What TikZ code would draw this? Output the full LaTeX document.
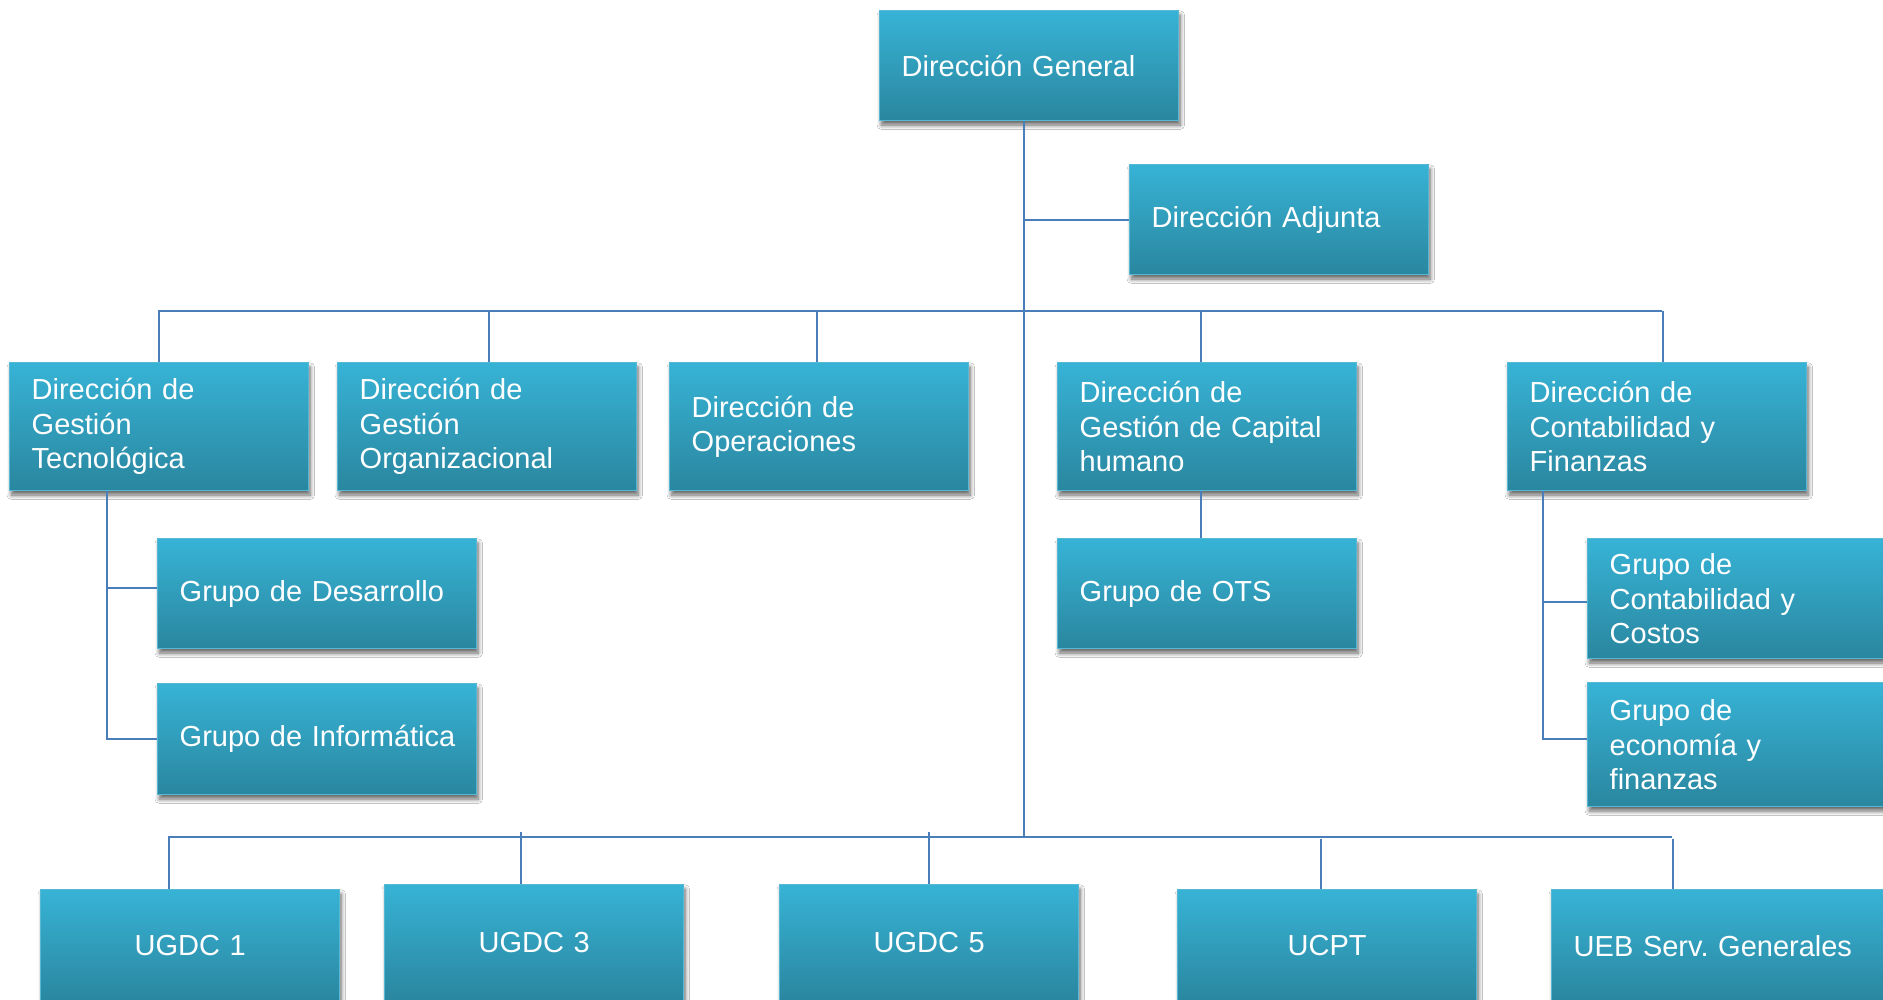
\documentclass[tikz,border=0pt]{standalone}
\usepackage{fontspec}
\setmainfont{Liberation Sans}
\usetikzlibrary{shadows.blur}
\definecolor{boxtop}{HTML}{37B3D6}
\definecolor{boxbot}{HTML}{2A869F}
\definecolor{boxedge}{HTML}{55B9D6}
\definecolor{conn}{HTML}{4A7EBB}
\frenchspacing
\tikzset{
  orgbox/.style={draw=boxedge, line width=0.7pt, top color=boxtop, bottom color=boxbot,
    text=white, font=\fontsize{14.5}{17.2}\selectfont, inner xsep=11pt, inner ysep=0pt,
    anchor=north west, align=left,
    blur shadow={shadow xshift=0.8pt, shadow yshift=-2.2pt, shadow blur steps=6, shadow opacity=60}},
  ctrbox/.style={orgbox, align=center},
  wa/.style={minimum width=149.5pt, text width=127.5pt},
  wb/.style={minimum width=159.5pt, text width=137.5pt},
  wc/.style={minimum width=170pt, text width=148pt},
  connector/.style={draw=conn, line width=1pt},
}
\begin{document}
\begin{tikzpicture}[x=0.5pt, y=-0.5pt]
\useasboundingbox (0,0) rectangle (1883,1000);
\fill[white] (0,0) rectangle (1883,1000);
% level 1
\node[orgbox, wa, minimum height=55pt] (DG) at (879,10) {Dirección General};
\node[orgbox, wa, minimum height=55pt] (DA) at (1129,164) {Dirección Adjunta};
% level 2
\node[orgbox, wa, minimum height=64pt] (DGT) at (9,362) {Dirección de\\Gestión\\Tecnológica};
\node[orgbox, wa, minimum height=64pt] (DGO) at (337,362) {Dirección de\\Gestión\\Organizacional};
\node[orgbox, wa, minimum height=64pt] (DO) at (669,362) {Dirección de\\Operaciones};
\node[orgbox, wa, minimum height=64pt] (DGCH) at (1057,362) {Dirección de\\Gestión de Capital\\humano};
\node[orgbox, wa, minimum height=64pt] (DCF) at (1507,362) {Dirección de\\Contabilidad y\\Finanzas};
% level 3
\node[orgbox, wb, minimum height=55pt] (GD) at (157,538) {\mbox{Grupo de Desarrollo}};
\node[orgbox, wb, minimum height=55.5pt] (GI) at (157,683) {\mbox{Grupo de Informática}};
\node[orgbox, wa, minimum height=55pt] (OTS) at (1057,538) {Grupo de OTS};
\node[orgbox, wc, minimum height=60pt] (GCC) at (1587,538) {Grupo de\\Contabilidad y\\Costos};
\node[orgbox, wc, minimum height=62pt] (GEF) at (1587,682) {Grupo de\\economía y\\finanzas};
% bottom units
\node[ctrbox, wa, minimum height=56pt] (U1) at (40,889) {UGDC 1};
\node[ctrbox, wa, minimum height=58pt] (U3) at (384,884) {UGDC 3};
\node[ctrbox, wa, minimum height=58pt] (U5) at (779,884) {UGDC 5};
\node[ctrbox, wa, minimum height=56pt] (UCPT) at (1177,889) {UCPT};
\node[orgbox, wc, minimum height=56pt] (UEB) at (1551,889) {\mbox{UEB Serv. Generales}};
% bus coordinates
\coordinate (trunk) at (1024,0);
\coordinate (topbusL) at (158,311);
\coordinate (topbusR) at (1662,311);
\coordinate (botbusL) at (168,837);
\coordinate (botbusR) at (1672,837);
\coordinate (botbusA) at (0,832);
\coordinate (botbusB) at (0,839);
% attachment points
\coordinate (pDGO) at ([xshift=0.75pt]DGO.north);
\coordinate (pDO) at ([xshift=-1.25pt]DO.north);
\coordinate (pDGCH) at ([xshift=-3.25pt]DGCH.north);
\coordinate (pDCF) at ([xshift=2.75pt]DCF.north);
\coordinate (dgtx) at ([xshift=-26.25pt]DGT.south);
\coordinate (gdw) at ([yshift=3pt]GD.west);
\coordinate (dcfx) at ([xshift=-57.25pt]DCF.south);
\coordinate (gccw) at ([yshift=-1.5pt]GCC.west);
\coordinate (gefw) at ([yshift=3pt]GEF.west);
\coordinate (pU1) at ([xshift=-10.75pt]U1.north);
\coordinate (pU3) at ([xshift=-6.5pt]U3.north);
\coordinate (pUCPT) at ([xshift=-3.25pt]UCPT.north);
\coordinate (pUEB) at ([xshift=-24.5pt]UEB.north);
% connectors
\draw[connector] (DG.south -| trunk) -- (trunk |- botbusL);
\draw[connector] (trunk |- DA.west) -- (DA.west);
\draw[connector] (topbusL) -- (topbusR);
\draw[connector] (DGT.north |- topbusL) -- (DGT.north);
\draw[connector] (pDGO |- topbusL) -- (pDGO);
\draw[connector] (pDO |- topbusL) -- (pDO);
\draw[connector] (pDGCH |- topbusL) -- (pDGCH);
\draw[connector] (pDCF |- topbusL) -- (pDCF);
% DGT children
\draw[connector] (dgtx) |- (GI.west);
\draw[connector] (dgtx |- gdw) -- (gdw);
% DGCH child
\draw[connector] ([xshift=-3.25pt]DGCH.south) -- ([xshift=-3.25pt]OTS.north);
% DCF children
\draw[connector] (dcfx) |- (gefw);
\draw[connector] (dcfx |- gccw) -- (gccw);
% bottom bus
\draw[connector] (botbusL) -- (botbusR);
\draw[connector] (pU1 |- botbusL) -- (pU1);
\draw[connector] (pU3 |- botbusA) -- (pU3);
\draw[connector] (U5.north |- botbusA) -- (U5.north);
\draw[connector] (pUCPT |- botbusB) -- (pUCPT);
\draw[connector] (pUEB |- botbusB) -- (pUEB);
\end{tikzpicture}
\end{document}
